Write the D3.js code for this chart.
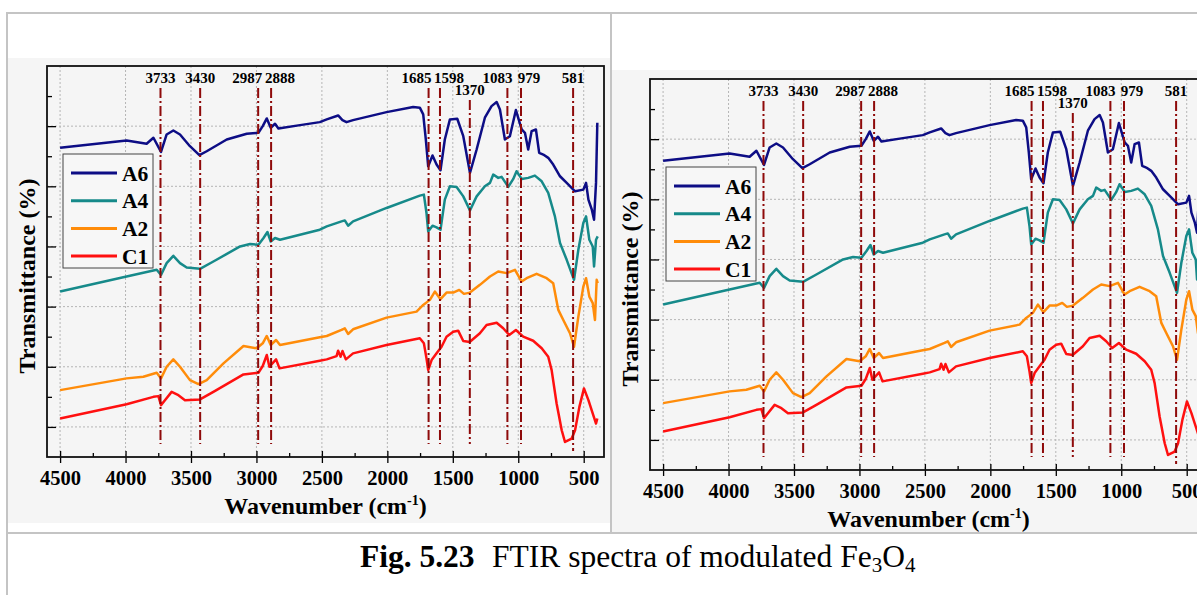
<!DOCTYPE html>
<html><head><meta charset="utf-8">
<script src="https://cdn.jsdelivr.net/npm/d3@7"></script>
<style>
body{margin:0;background:#fff;}
svg{display:block;}
text{font-family:"Liberation Serif","Times New Roman",serif;}
</style>
</head><body>
<svg id="c" width="1197" height="595"></svg>
<script>
// ---------------- DATA ----------------
const seriesNames = ["A6", "A4", "A2", "C1"];
const A6 = [[4500,56.4],[3992,57.6],[3839,57.07],[3787,58.07],[3729,55.73],[3686,58.62],[3635,59.28],[3584,58.62],[3508,56.67],[3436,55.17],[3380,55.83],[3227,57.78],[3074,58.73],[2985,58.9],[2952,60.0],[2921,61.28],[2891,59.73],[2858,60.4],[2832,59.62],[2667,60.17],[2516,60.67],[2463,61.12],[2376,61.78],[2343,61.0],[2312,60.67],[2262,61.0],[2006,62.33],[1803,63.17],[1752,63.07],[1726,61.95],[1706,57.78],[1688,53.33],[1655,55.12],[1624,53.62],[1594,52.67],[1561,57.78],[1522,61.12],[1466,61.23],[1420,58.33],[1369,52.23],[1318,56.12],[1255,61.4],[1204,63.33],[1165,64.0],[1140,62.78],[1102,57.78],[1064,58.33],[1018,62.67],[974,59.45],[949,58.9],[924,56.12],[898,59.17],[865,59.45],[840,55.57],[809,55.28],[771,54.73],[733,53.62],[681,51.67],[630,50.57],[566,49.17],[503,49.45],[482,50.57],[464,47.78],[438,46.12],[421,44.45],[406,50.57],[396,60.57]];
const A4 = [[4500,32.5],[3992,35.0],[3762,36.12],[3729,35.28],[3686,37.23],[3635,38.45],[3584,37.23],[3533,36.5],[3431,36.28],[3329,37.5],[3125,40.0],[3049,40.4],[2985,40.28],[2946,41.4],[2916,42.4],[2891,40.83],[2858,41.4],[2820,41.12],[2516,42.78],[2463,43.33],[2350,44.17],[2325,44.33],[2300,43.45],[2262,44.17],[2006,46.4],[1752,48.45],[1721,48.62],[1701,45.57],[1688,42.5],[1655,43.45],[1624,43.17],[1594,42.78],[1561,47.78],[1522,50.0],[1471,49.9],[1420,48.33],[1369,46.0],[1318,48.33],[1255,50.0],[1216,50.57],[1191,51.95],[1153,51.4],[1127,51.57],[1076,49.9],[1038,51.23],[1013,52.5],[974,51.23],[924,51.4],[873,51.78],[821,50.83],[771,48.9],[720,45.0],[681,40.57],[630,37.78],[574,34.45],[541,39.45],[503,43.9],[482,45.0],[457,41.12],[431,40.0],[421,36.67],[406,41.12],[393,41.67]];
const A2 = [[4500,16.12],[3992,18.07],[3864,18.33],[3762,19.0],[3729,18.07],[3686,20.0],[3635,21.23],[3584,20.0],[3508,17.78],[3443,17.12],[3380,17.78],[3252,20.57],[3099,23.45],[2998,23.07],[2952,23.9],[2921,25.12],[2891,23.62],[2850,24.45],[2820,23.62],[2516,24.9],[2463,25.12],[2350,26.12],[2325,26.4],[2300,25.45],[2262,26.23],[2006,28.17],[1777,29.17],[1726,30.28],[1675,31.12],[1637,32.5],[1594,31.23],[1548,32.33],[1497,32.33],[1451,32.78],[1415,32.12],[1369,32.33],[1293,33.62],[1216,35.0],[1153,35.83],[1089,35.57],[1025,36.12],[974,34.17],[936,34.73],[860,35.45],[783,34.73],[733,33.9],[694,29.45],[656,27.78],[605,25.57],[574,23.33],[541,28.33],[503,33.33],[482,34.73],[457,31.67],[431,30.57],[414,27.78],[401,34.45],[393,33.9]];
const C1 = [[4500,11.4],[3992,13.78],[3787,15.0],[3749,15.12],[3729,13.62],[3699,14.45],[3648,15.83],[3596,15.28],[3546,14.45],[3431,14.57],[3329,15.83],[3099,18.73],[2985,19.0],[2952,20.12],[2921,21.95],[2901,20.0],[2850,21.23],[2824,19.73],[2516,21.0],[2463,21.23],[2388,21.78],[2376,22.67],[2357,21.67],[2343,22.62],[2317,21.23],[2262,22.23],[2006,23.62],[1752,24.73],[1721,23.9],[1701,21.4],[1688,19.45],[1662,21.12],[1624,22.23],[1586,23.33],[1548,25.0],[1497,25.83],[1459,26.0],[1420,24.28],[1382,24.17],[1369,24.17],[1293,25.57],[1242,26.95],[1165,27.33],[1115,26.4],[1069,25.28],[1018,26.12],[962,25.0],[886,24.33],[821,23.07],[771,21.67],[745,19.45],[707,13.9],[668,9.45],[643,7.5],[592,8.07],[566,9.45],[533,13.33],[498,16.4],[464,14.45],[427,11.95],[406,10.57],[396,11.4]];
const peakWavenumbers = [3733, 3430, 2987, 2888, 1685, 1598, 1370, 1083, 979, 581];
const xTickLabels = [4500, 4000, 3500, 3000, 2500, 2000, 1500, 1000, 500];
const xMinorTicks = [4250, 3750, 3250, 2750, 2250, 1750, 1250, 750];
const yMajorTicks = [10, 20, 30, 40, 50, 60];
const yMinorTicks = [15, 25, 35, 45, 55, 65];
const xLabel = "Wavenumber (cm";
const yLabel = "Transmittance (%)";

// ---------------- DRAWING ----------------
const seriesData = [A6, A4, A2, C1];
const colors = ["#0d0d85", "#168a8a", "#ff8c0a", "#ff1010"];
const svg = d3.select("#c");

// document table borders
const gray = "#c4c4c4";
svg.append("line").attr("x1",7).attr("x2",1197).attr("y1",13).attr("y2",13).attr("stroke",gray).attr("stroke-width",2);
svg.append("line").attr("x1",7).attr("x2",7).attr("y1",12).attr("y2",595).attr("stroke",gray).attr("stroke-width",2);
svg.append("line").attr("x1",611).attr("x2",611).attr("y1",13).attr("y2",533).attr("stroke",gray).attr("stroke-width",2);
svg.append("line").attr("x1",7).attr("x2",1197).attr("y1",533).attr("y2",533).attr("stroke",gray).attr("stroke-width",2);

// picture backgrounds
svg.append("rect").attr("x",8).attr("y",58).attr("width",602).attr("height",465).attr("fill","#f5f5f5");
svg.append("rect").attr("x",612).attr("y",70).attr("width",585).attr("height",462).attr("fill","#f5f5f5");

const x = d3.scaleLinear().domain([4600, 345]).range([47, 604]);
const y = d3.scaleLinear().domain([5, 70]).range([457, 66]);

const labelNudge = {2987:-11, 2888:9, 1685:-12, 1598:9, 1083:-10, 979:8};

function drawPanel(dx, dy) {
  const g = svg.append("g").attr("transform", `translate(${dx},${dy})`);
  const [x0, x1] = x.range();
  const [y0, y1] = y.range();

  // grid
  g.append("g").selectAll("line").data(xTickLabels).join("line")
    .attr("x1", d => x(d)).attr("x2", d => x(d)).attr("y1", y1).attr("y2", y0)
    .attr("stroke", "#b5b5b5").attr("stroke-width", 1).attr("stroke-dasharray", "2,2");
  g.append("g").selectAll("line").data(yMajorTicks).join("line")
    .attr("x1", x0).attr("x2", x1).attr("y1", d => y(d)).attr("y2", d => y(d))
    .attr("stroke", "#b5b5b5").attr("stroke-width", 1).attr("stroke-dasharray", "2,2");

  // curves
  const line = d3.line().x(d => x(d[0])).y(d => y(d[1]));
  seriesData.forEach((s, i) => {
    g.append("path").attr("d", line(s)).attr("fill", "none")
      .attr("stroke", colors[i]).attr("stroke-width", 2.5).attr("stroke-linejoin", "round");
  });

  // peak marker lines
  g.append("g").selectAll("line").data(peakWavenumbers).join("line")
    .attr("x1", d => x(d)).attr("x2", d => x(d))
    .attr("y1", d => d === 1370 ? 100 : 88)
    .attr("y2", d => d === 581 ? 451 : 444)
    .attr("stroke", "#8e0a0a").attr("stroke-width", 2).attr("stroke-dasharray", "10,3,2,3");
  g.append("g").selectAll("text").data(peakWavenumbers).join("text")
    .attr("x", d => x(d) + (labelNudge[d] || 0))
    .attr("y", d => d === 1370 ? 95 : 83)
    .attr("text-anchor", "middle").attr("font-weight", "bold").attr("font-size", 15)
    .text(d => d);

  // axes
  const xAxis = d3.axisBottom(x).tickValues(xTickLabels).tickSizeInner(6).tickSizeOuter(0).tickPadding(10).tickFormat(d3.format("d"));
  const ax = g.append("g").attr("transform", `translate(0,${y0})`).call(xAxis);
  ax.select(".domain").remove();
  ax.selectAll(".tick line").attr("y1", -6).attr("stroke", "#000").attr("stroke-width", 1.3);
  ax.selectAll(".tick text").attr("font-size", 20.5).attr("font-weight", "bold")
    .attr("font-family", "Liberation Serif, Times New Roman, serif").attr("fill", "#000").attr("dy", "0.6em");
  const axm = g.append("g").attr("transform", `translate(0,${y0})`)
    .call(d3.axisBottom(x).tickValues(xMinorTicks).tickSize(-4).tickSizeOuter(0).tickFormat(""));
  axm.select(".domain").remove();
  axm.selectAll(".tick line").attr("stroke", "#000").attr("stroke-width", 1.3);

  const ay = g.append("g").attr("transform", `translate(${x0},0)`)
    .call(d3.axisLeft(y).tickValues(yMajorTicks).tickSize(-9).tickSizeOuter(0).tickFormat(""));
  ay.select(".domain").remove();
  ay.selectAll(".tick line").attr("stroke", "#000").attr("stroke-width", 1.3);
  const aym = g.append("g").attr("transform", `translate(${x0},0)`)
    .call(d3.axisLeft(y).tickValues(yMinorTicks).tickSize(-5).tickSizeOuter(0).tickFormat(""));
  aym.select(".domain").remove();
  aym.selectAll(".tick line").attr("stroke", "#000").attr("stroke-width", 1.3);

  // frame
  g.append("rect").attr("x", x0).attr("y", y1).attr("width", x1 - x0).attr("height", y0 - y1)
    .attr("fill", "none").attr("stroke", "#111").attr("stroke-width", 1.8);

  // axis titles
  const xt = g.append("text").attr("x", (x0 + x1) / 2).attr("y", 514).attr("text-anchor", "middle")
    .attr("font-weight", "bold").attr("font-size", 24);
  xt.append("tspan").text(xLabel);
  xt.append("tspan").attr("dy", -9).attr("font-size", 14).text("-1");
  xt.append("tspan").attr("dy", 9).text(")");
  g.append("text").attr("transform", "translate(35,276) rotate(-90)").attr("text-anchor", "middle")
    .attr("font-weight", "bold").attr("font-size", 24).text(yLabel);

  // legend
  const lg = g.append("g");
  lg.append("rect").attr("x", 63).attr("y", 154).attr("width", 90).attr("height", 114)
    .attr("fill", "#f7f7f7").attr("stroke", "#444").attr("stroke-width", 1);
  seriesNames.forEach((n, i) => {
    const yy = 173 + i * 27.7;
    lg.append("line").attr("x1", 71).attr("x2", 117).attr("y1", yy).attr("y2", yy)
      .attr("stroke", colors[i]).attr("stroke-width", 3);
    lg.append("text").attr("x", 122).attr("y", yy + 7.5).attr("font-weight", "bold")
      .attr("font-size", 21.5).text(n);
  });
}

drawPanel(0, 0);
drawPanel(603, 13);

// caption
svg.append("text").attr("x", 360).attr("y", 567).attr("font-size", 31.5).attr("font-weight", "bold").text("Fig. 5.23");
const cap = svg.append("text").attr("x", 492).attr("y", 567).attr("font-size", 31.5);
cap.append("tspan").text("FTIR spectra of modulated Fe");
cap.append("tspan").attr("font-size", 21).attr("dy", 5).text("3");
cap.append("tspan").attr("dy", -5).text("O");
cap.append("tspan").attr("font-size", 21).attr("dy", 5).text("4");
</script>
</body></html>
